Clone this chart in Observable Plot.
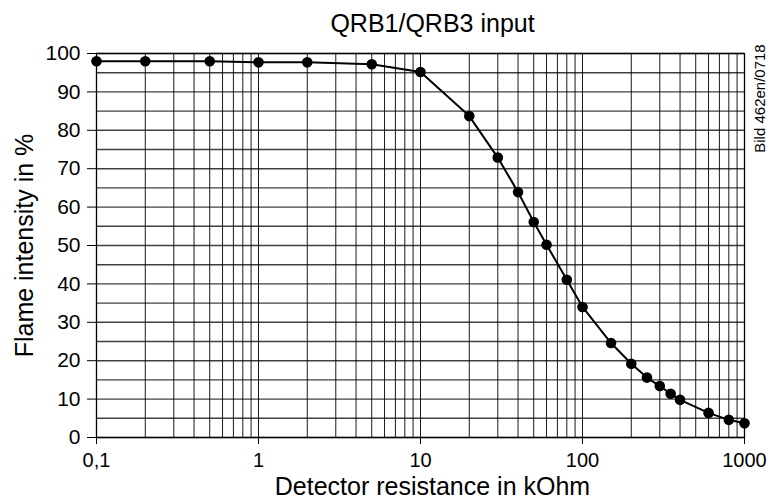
<!DOCTYPE html>
<html>
<head>
<meta charset="utf-8">
<script src="https://cdn.jsdelivr.net/npm/d3@7"></script>
<script src="https://cdn.jsdelivr.net/npm/@observablehq/plot@0.6"></script>
<style>
  body { margin: 0; background: #fff; }
  #chart svg { font-family: "Liberation Sans", Arial, sans-serif; }
</style>
</head>
<body>
<div id="chart"></div>
<script>
// Detector resistance (kOhm) and flame intensity (%)
const resistance = [0.1, 0.2, 0.5, 1, 2, 5, 10, 20, 30, 40, 50, 60, 80, 100, 150, 200, 250, 300, 350, 400, 600, 800, 1000];
const intensity  = [98, 98, 98, 97.7, 97.7, 97.2, 95.2, 83.7, 72.9, 63.9, 56.1, 50.2, 41.1, 34.0, 24.6, 19.2, 15.6, 13.4, 11.4, 9.8, 6.4, 4.6, 3.7];

const xTicks = [0.1, 1, 10, 100, 1000];
const xTickLabels = ["0,1", "1", "10", "100", "1000"];
const yTicks = [0, 10, 20, 30, 40, 50, 60, 70, 80, 90, 100];
const yGridLines = [0, 5, 10, 15, 20, 25, 30, 35, 40, 45, 50, 55, 60, 65, 70, 75, 80, 85, 90, 95, 100];

const title = "QRB1/QRB3 input";
const xLabel = "Detector resistance in kOhm";
const yLabel = "Flame intensity in %";
const figureId = "Bild 462en/0718";

const data = resistance.map((r, i) => ({ r, v: intensity[i] }));
const xGridLines = d3.scaleLog().domain([0.1, 1000]).ticks();

const chart = Plot.plot({
  width: 771,
  height: 501,
  marginLeft: 96,
  marginRight: 27,
  marginTop: 53,
  marginBottom: 64,
  x: { type: "log", domain: [0.1, 1000] },
  y: { domain: [0, 100] },
  style: { fontFamily: "'Liberation Sans', Arial, sans-serif", fontSize: "20px", color: "#000", background: "#fff", overflow: "visible" },
  marks: [
    Plot.ruleY(yGridLines, { stroke: "#000", strokeWidth: 1.4, strokeOpacity: 0.75 }),
    Plot.ruleX(xGridLines, { stroke: "#000", strokeWidth: 1, strokeOpacity: 0.9 }),
    Plot.frame({ stroke: "#000", strokeWidth: 1.3 }),
    Plot.axisX({ ticks: xTicks, tickFormat: d => xTickLabels[xTicks.indexOf(d)], tickSize: 7, tickPadding: 8, label: null, fontSize: 20 }),
    Plot.axisY({ ticks: yTicks, tickSize: 9, tickPadding: 7, label: null, fontSize: 21 }),
    Plot.line(data, { x: "r", y: "v", stroke: "#000", strokeWidth: 2 }),
    Plot.dot(data, { x: "r", y: "v", r: 5.3, fill: "#000", stroke: "none" }),
    Plot.text([title], { frameAnchor: "top", dx: 12, dy: -39, fontSize: 25 }),
    Plot.text([xLabel], { frameAnchor: "bottom", dx: 12, dy: 57, fontSize: 25 }),
    Plot.text([yLabel], { frameAnchor: "left", textAnchor: "middle", dx: -72, rotate: -90, fontSize: 25 }),
    Plot.text([figureId], { frameAnchor: "top-right", textAnchor: "middle", dx: 10, dy: 45, rotate: -90, fontSize: 15 })
  ]
});
document.getElementById("chart").append(chart);
</script>
</body>
</html>
